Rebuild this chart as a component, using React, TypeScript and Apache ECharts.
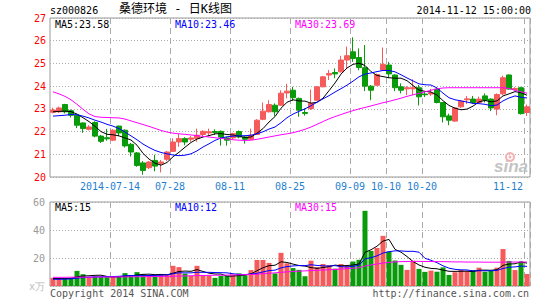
import React, { useEffect, useRef } from "react";
import * as echarts from "echarts";

const DATES = [
  "2014-06-30","2014-07-01","2014-07-02","2014-07-03","2014-07-04","2014-07-07","2014-07-08","2014-07-09","2014-07-10","2014-07-11",
  "2014-07-14","2014-07-15","2014-07-16","2014-07-17","2014-07-18","2014-07-21","2014-07-22","2014-07-23","2014-07-24","2014-07-25",
  "2014-07-28","2014-07-29","2014-07-30","2014-07-31","2014-08-01","2014-08-04","2014-08-05","2014-08-06","2014-08-07","2014-08-08",
  "2014-08-11","2014-08-12","2014-08-13","2014-08-14","2014-08-15","2014-08-18","2014-08-19","2014-08-20","2014-08-21","2014-08-22",
  "2014-08-25","2014-08-26","2014-08-27","2014-08-28","2014-08-29","2014-09-01","2014-09-02","2014-09-03","2014-09-04","2014-09-05",
  "2014-09-09","2014-09-10","2014-09-11","2014-09-12","2014-09-15","2014-09-16","2014-10-10","2014-10-13","2014-10-14","2014-10-15",
  "2014-10-16","2014-10-17","2014-10-20","2014-10-21","2014-10-22","2014-10-23","2014-10-24","2014-10-27","2014-10-28","2014-10-29",
  "2014-10-30","2014-10-31","2014-11-03","2014-11-04","2014-11-05","2014-11-06","2014-11-07","2014-11-10","2014-11-11","2014-11-12",
];

const OPEN = [
  22.85,22.87,23.19,22.92,22.72,22.38,22.1,22.4,21.8,21.73,
  21.62,22.24,22.06,21.44,21.06,20.62,20.41,20.73,20.6,20.78,
  21.13,21.54,21.69,21.66,21.69,21.87,21.94,22.0,22.01,21.72,
  21.72,22.0,21.76,21.66,21.87,22.54,22.87,23.16,23.16,23.7,
  23.82,23.46,22.84,23.01,23.38,23.97,24.49,24.6,24.63,25.15,
  25.51,25.26,24.81,24.0,24.04,24.71,24.93,24.49,23.97,23.88,
  23.88,23.93,23.65,23.65,23.87,23.28,22.69,22.46,23.09,23.4,
  23.43,23.28,23.57,23.43,22.99,23.66,24.49,23.85,23.93,22.84,
];
const CLOSE = [
  22.95,23.04,22.87,22.72,22.28,22.13,22.2,21.8,21.57,21.68,
  22.06,21.94,21.37,21.1,20.51,20.29,20.66,20.48,20.66,21.1,
  21.54,21.69,21.54,21.72,21.84,22.01,21.99,21.96,21.76,21.62,
  21.91,21.76,21.66,21.84,22.5,22.9,23.19,22.87,23.69,23.78,
  23.49,22.94,22.8,23.24,23.97,24.41,24.56,24.54,25.15,25.34,
  25.22,24.82,24.0,23.82,24.51,24.96,24.54,23.93,23.82,23.93,
  23.93,23.53,23.62,23.7,23.28,22.65,22.5,23.04,23.34,23.44,
  23.28,23.43,23.38,23.04,23.63,24.37,23.87,23.9,22.79,23.09,
];
const LOW = [
  22.8,22.82,22.8,22.62,22.15,21.95,22.05,21.75,21.5,21.6,
  21.58,21.8,21.3,20.9,20.45,20.1,20.35,20.25,20.2,20.7,
  21.1,21.33,21.4,21.55,21.55,21.8,21.8,21.85,21.38,21.38,
  21.66,21.7,21.47,21.62,21.85,22.5,22.84,22.69,23.13,23.46,
  23.35,22.65,22.7,22.95,23.35,23.95,24.27,24.35,24.6,24.78,
  25.07,24.7,23.78,23.38,24.0,24.68,24.35,23.78,23.68,23.6,
  23.6,23.15,23.52,23.57,23.24,22.4,22.28,22.43,23.04,23.21,
  23.21,23.25,23.28,22.9,22.72,23.6,23.85,23.8,22.75,22.69,
];
const HIGH = [
  23.05,23.1,23.22,22.97,22.75,22.4,22.28,22.45,21.85,22.12,
  22.1,22.26,22.1,21.5,21.1,20.7,20.7,20.98,20.75,21.15,
  21.7,21.9,21.75,21.8,22.13,22.06,22.13,22.1,22.05,21.76,
  21.95,22.05,21.8,22.13,22.55,23.28,23.38,23.24,23.82,24.1,
  23.97,23.5,23.02,23.85,24.0,24.45,24.71,24.78,25.34,25.74,
  26.15,25.66,25.81,24.05,24.55,25.7,25.07,24.52,24.12,24.0,
  24.3,24.05,23.74,23.88,23.93,23.3,22.79,23.07,23.38,23.57,
  23.57,23.54,23.68,23.46,23.68,24.46,24.52,23.95,23.97,23.19,
];

const MA5 = [
  22.87,22.89,22.9,22.88,22.77,22.61,22.44,22.23,22.0,21.88,
  21.86,21.81,21.72,21.63,21.4,21.04,20.79,20.61,20.52,20.64,
  20.89,21.09,21.31,21.52,21.67,21.76,21.82,21.9,21.91,21.87,
  21.85,21.8,21.74,21.76,21.93,22.13,22.42,22.66,23.03,23.29,
  23.4,23.35,23.34,23.25,23.29,23.47,23.8,24.14,24.53,24.8,
  24.96,25.01,24.91,24.64,24.47,24.42,24.37,24.35,24.35,24.24,
  24.03,23.83,23.77,23.74,23.61,23.36,23.15,23.03,22.96,22.99,
  23.12,23.31,23.37,23.31,23.35,23.57,23.66,23.76,23.71,23.6,
];
const MA10 = [
  22.68,22.7,22.72,22.75,22.74,22.68,22.6,22.5,22.42,22.32,
  22.24,22.13,21.98,21.81,21.64,21.45,21.3,21.17,21.08,21.02,
  20.97,20.94,20.96,21.02,21.15,21.32,21.46,21.61,21.72,21.77,
  21.8,21.81,21.82,21.84,21.9,21.99,22.11,22.2,22.39,22.61,
  22.77,22.89,23.0,23.14,23.29,23.44,23.58,23.74,23.89,24.04,
  24.22,24.41,24.53,24.58,24.64,24.69,24.69,24.63,24.5,24.36,
  24.23,24.1,24.06,24.05,23.92,23.69,23.49,23.4,23.35,23.3,
  23.24,23.23,23.2,23.14,23.17,23.35,23.48,23.57,23.51,23.48,
];
const MA30 = [
  23.75,23.66,23.55,23.4,23.2,22.98,22.78,22.66,22.63,22.62,
  22.61,22.6,22.55,22.47,22.39,22.31,22.23,22.14,22.05,21.98,
  21.93,21.9,21.88,21.85,21.82,21.79,21.76,21.73,21.7,21.67,
  21.64,21.62,21.61,21.62,21.66,21.71,21.76,21.81,21.86,21.9,
  21.95,22.02,22.1,22.2,22.32,22.44,22.56,22.66,22.75,22.84,
  22.92,23.0,23.06,23.13,23.2,23.27,23.33,23.4,23.47,23.55,
  23.62,23.68,23.75,23.82,23.88,23.92,23.93,23.93,23.93,23.93,
  23.93,23.93,23.93,23.93,23.93,23.93,23.9,23.82,23.75,23.69,
];

const VOL = [
  5.8,5.4,5.2,5.9,10.8,8.4,6.2,6.8,6.4,6.4,
  6.4,6.6,9.2,7.4,9.9,8.4,7.4,7.4,8.3,8.3,
  14.4,13.5,8.8,7.4,14.4,7.8,7.4,5.8,7.2,7.2,
  8.0,9.0,7.6,11.4,18.6,18.6,16.5,9.0,23.7,16.2,
  12.8,11.5,7.0,18.1,13.5,15.7,14.9,12.4,15.7,14.5,
  17.5,18.7,53.7,25.1,27.2,35.8,24.6,18.2,15.1,11.5,
  18.0,12.2,10.1,11.0,10.2,13.3,7.9,9.8,11.4,10.7,
  11.4,13.1,10.2,10.7,13.1,26.4,17.9,11.4,17.4,8.6,
];
const VMA5 = [
  5.4,5.3,5.3,5.4,6.62,7.14,7.3,7.62,7.72,6.84,
  6.44,6.52,7.0,7.2,7.9,8.3,8.46,8.1,8.28,7.96,
  9.16,10.38,10.66,10.48,11.7,10.38,9.16,8.56,8.52,7.08,
  7.12,7.44,7.8,8.64,10.92,13.04,14.54,14.82,17.28,16.8,
  15.64,14.64,14.24,13.12,12.58,13.16,13.84,14.92,14.44,14.64,
  15.0,15.76,24.02,25.9,28.44,32.1,33.28,26.18,24.18,21.04,
  17.48,15.0,13.38,12.56,12.3,11.36,10.5,10.44,10.52,10.62,
  10.24,11.28,11.36,11.22,11.7,14.7,15.66,15.9,17.24,16.34,
];
const VMA10 = [
  4.8,4.8,4.9,5.1,5.6,6.0,6.3,6.5,6.6,6.73,
  6.79,6.91,7.31,7.46,7.37,7.37,7.49,7.55,7.74,7.93,
  8.73,9.42,9.38,9.38,9.83,9.77,9.77,9.61,9.5,9.39,
  8.75,8.3,8.18,8.58,9.0,10.08,10.99,11.31,12.96,13.86,
  14.34,14.59,14.53,15.2,14.69,14.4,14.24,14.58,13.78,13.61,
  14.08,14.8,19.47,20.17,21.54,23.55,24.52,25.1,25.04,24.74,
  24.79,24.14,19.78,18.37,16.67,14.42,12.75,11.91,11.54,11.46,
  10.8,10.89,10.9,10.87,11.16,12.47,13.47,13.63,14.23,14.02,
];
const VMA30 = [
  6.2,6.2,6.2,6.3,6.3,6.3,6.3,6.4,6.4,6.4,
  6.5,6.5,6.5,6.6,6.6,6.7,6.7,6.8,6.8,6.9,
  7.0,7.1,7.2,7.3,7.4,7.5,7.6,7.7,7.7,7.8,
  7.9,8.0,8.1,8.2,8.4,8.8,9.1,9.4,9.8,10.1,
  10.4,10.6,10.8,11.0,11.2,11.4,11.6,11.8,12.1,12.4,
  12.7,13.0,14.3,15.0,15.7,16.4,16.9,17.2,17.4,17.5,
  17.6,17.6,17.5,17.5,17.4,17.4,17.3,17.2,17.2,17.1,
  17.1,17.1,17.0,17.0,17.0,17.0,17.1,17.1,17.1,17.1,
];

const LABEL_IDX = [10, 20, 30, 40, 50, 56, 62, 79];
const PRICE_TICKS = [20, 27, 1];
const VOL_TICKS = [0, 60, 20];

const TITLE_CODE = "sz000826";
const TITLE_NAME = "桑德环境 - 日K线图";
const TITLE_TIME = "2014-11-12 15:00:00";
const LEGEND_MAIN = ["MA5:23.58", "MA10:23.46", "MA30:23.69"];
const LEGEND_VOL = ["MA5:15", "MA10:12", "MA30:15"];
const FOOT_LEFT = "Copyright 2014 SINA.COM";
const FOOT_RIGHT = "http://finance.sina.com.cn";

const MONO = '"DejaVu Sans Mono", "Liberation Mono", monospace';
const RED = "#f65b5b";
const GREEN = "#099b09";
const MA_COLORS = ["#000000", "#0000ff", "#ff00ff"];
const GRID_LINE = "#aaaaaa";

export default function App() {
  const ref = useRef<HTMLDivElement>(null);

  useEffect(() => {
    const chart = echarts.init(ref.current!, null, { renderer: "svg" });
    const isLabel = (i: number) => LABEL_IDX.includes(i);
    const last = LABEL_IDX[LABEL_IDX.length - 1];

    const xBase = (gridIndex: number, showLabel: boolean) => ({
      type: "category",
      gridIndex,
      data: DATES,
      boundaryGap: true,
      axisLine: { show: false },
      axisTick: { show: false },
      axisLabel: {
        show: showLabel,
        interval: (i: number) => isLabel(i),
        formatter: (v: string, i: number) => {
          if (i === LABEL_IDX[0]) return v;
          if (i === last) return "{r|" + v.slice(5) + "}";
          return v.slice(5);
        },
        color: "#1f7fd0",
        fontFamily: MONO,
        fontSize: 10,
        margin: 4,
        padding: [0, 6, 0, 0],
        rich: {
          r: { color: "#1f7fd0", fontFamily: MONO, fontSize: 10, padding: [0, 32, 0, 0] },
        },
      },
      splitLine: {
        show: true,
        interval: (i: number) => isLabel(i),
        lineStyle: { color: GRID_LINE, type: [6, 4], width: 1 },
      },
    });

    const candleData = DATES.map((_, i) => [OPEN[i], CLOSE[i], LOW[i], HIGH[i]]);
    const volData = VOL.map((v, i) => ({
      value: v,
      itemStyle: { color: CLOSE[i] >= OPEN[i] ? RED : GREEN },
    }));

    const maLine = (data: number[], color: string, axis: number) => ({
      type: "line",
      xAxisIndex: axis,
      yAxisIndex: axis,
      data,
      symbol: "none",
      silent: true,
      lineStyle: { color, width: 1 },
      itemStyle: { color },
    });

    const txt = (text: string, x: number, y: number, fill: string, align = "left", font = "10px " + MONO) => ({
      type: "text",
      x,
      y,
      silent: true,
      z: 10,
      style: { text, fill, font, align, verticalAlign: "middle" },
    });

    const option: any = {
      animation: false,
      backgroundColor: "#ffffff",
      grid: [
        { left: 50, top: 18, width: 480, height: 159, show: true, borderColor: "#999999", borderWidth: 1, backgroundColor: "transparent", containLabel: false, outerBoundsMode: "none" },
        { left: 50, top: 202, width: 480, height: 84, show: true, borderColor: "#999999", borderWidth: 1, backgroundColor: "transparent", containLabel: false, outerBoundsMode: "none" },
      ],
      xAxis: [xBase(0, true), xBase(1, false)],
      yAxis: [
        {
          type: "value",
          gridIndex: 0,
          min: PRICE_TICKS[0],
          max: PRICE_TICKS[1],
          interval: PRICE_TICKS[2],
          axisLine: { show: false },
          axisTick: { show: false },
          axisLabel: { color: "#ff0000", fontFamily: MONO, fontSize: 10, margin: 4 },
          splitLine: { lineStyle: { color: GRID_LINE, type: [1, 2], width: 1 } },
        },
        {
          type: "value",
          gridIndex: 1,
          min: VOL_TICKS[0],
          max: VOL_TICKS[1],
          interval: VOL_TICKS[2],
          axisLine: { show: false },
          axisTick: { show: false },
          axisLabel: {
            color: "#999999",
            fontFamily: MONO,
            fontSize: 10,
            margin: 5,
            formatter: (v: number) => (v === 0 ? "{u|x万}" : String(v)),
            rich: { u: { color: "#bbbbbb", fontFamily: MONO, fontSize: 10 } },
          },
          splitLine: { lineStyle: { color: GRID_LINE, type: [1, 2], width: 1 } },
        },
      ],
      series: [
        {
          type: "candlestick",
          xAxisIndex: 0,
          yAxisIndex: 0,
          data: candleData,
          barWidth: 5,
          silent: true,
          itemStyle: { color: RED, color0: GREEN, borderColor: RED, borderColor0: GREEN, borderWidth: 1 },
        },
        maLine(MA5, MA_COLORS[0], 0),
        maLine(MA10, MA_COLORS[1], 0),
        maLine(MA30, MA_COLORS[2], 0),
        {
          type: "bar",
          xAxisIndex: 1,
          yAxisIndex: 1,
          data: volData,
          barWidth: 5,
          silent: true,
        },
        maLine(VMA5, MA_COLORS[0], 1),
        maLine(VMA10, MA_COLORS[1], 1),
        maLine(VMA30, MA_COLORS[2], 1),
      ],
      graphic: [
        txt(TITLE_CODE, 50, 10, "#000000"),
        txt(TITLE_NAME, 119, 9, "#000000", "left", '12px "DejaVu Sans Mono", "Noto Sans CJK SC", sans-serif'),
        txt(TITLE_TIME, 531, 10, "#000000", "right"),
        txt(LEGEND_MAIN[0], 55, 24, MA_COLORS[0]),
        txt(LEGEND_MAIN[1], 175, 24, MA_COLORS[1]),
        txt(LEGEND_MAIN[2], 295, 24, MA_COLORS[2]),
        txt(LEGEND_VOL[0], 55, 207, MA_COLORS[0]),
        txt(LEGEND_VOL[1], 175, 207, MA_COLORS[1]),
        txt(LEGEND_VOL[2], 295, 207, MA_COLORS[2]),
        txt(FOOT_LEFT, 50, 293, "#555555"),
        txt(FOOT_RIGHT, 529, 293, "#555555", "right"),
        {
          type: "ring",
          silent: true,
          z: 5,
          shape: { cx: 510, cy: 157, r: 5, r0: 3 },
          style: { fill: "#f2b4b4" },
        },
        {
          type: "circle",
          silent: true,
          z: 5,
          shape: { cx: 510, cy: 157, r: 1.5 },
          style: { fill: "#f2b4b4" },
        },
        txt("sina", 494, 166, "#c4c4c4", "left", 'italic bold 17px "Liberation Sans", sans-serif'),
      ],
    };

    chart.setOption(option);
    return () => chart.dispose();
  }, []);

  return (
    <div
      ref={ref}
      style={{ position: "absolute", left: 0, top: 0, width: 545, height: 300, background: "#fff" }}
    />
  );
}
